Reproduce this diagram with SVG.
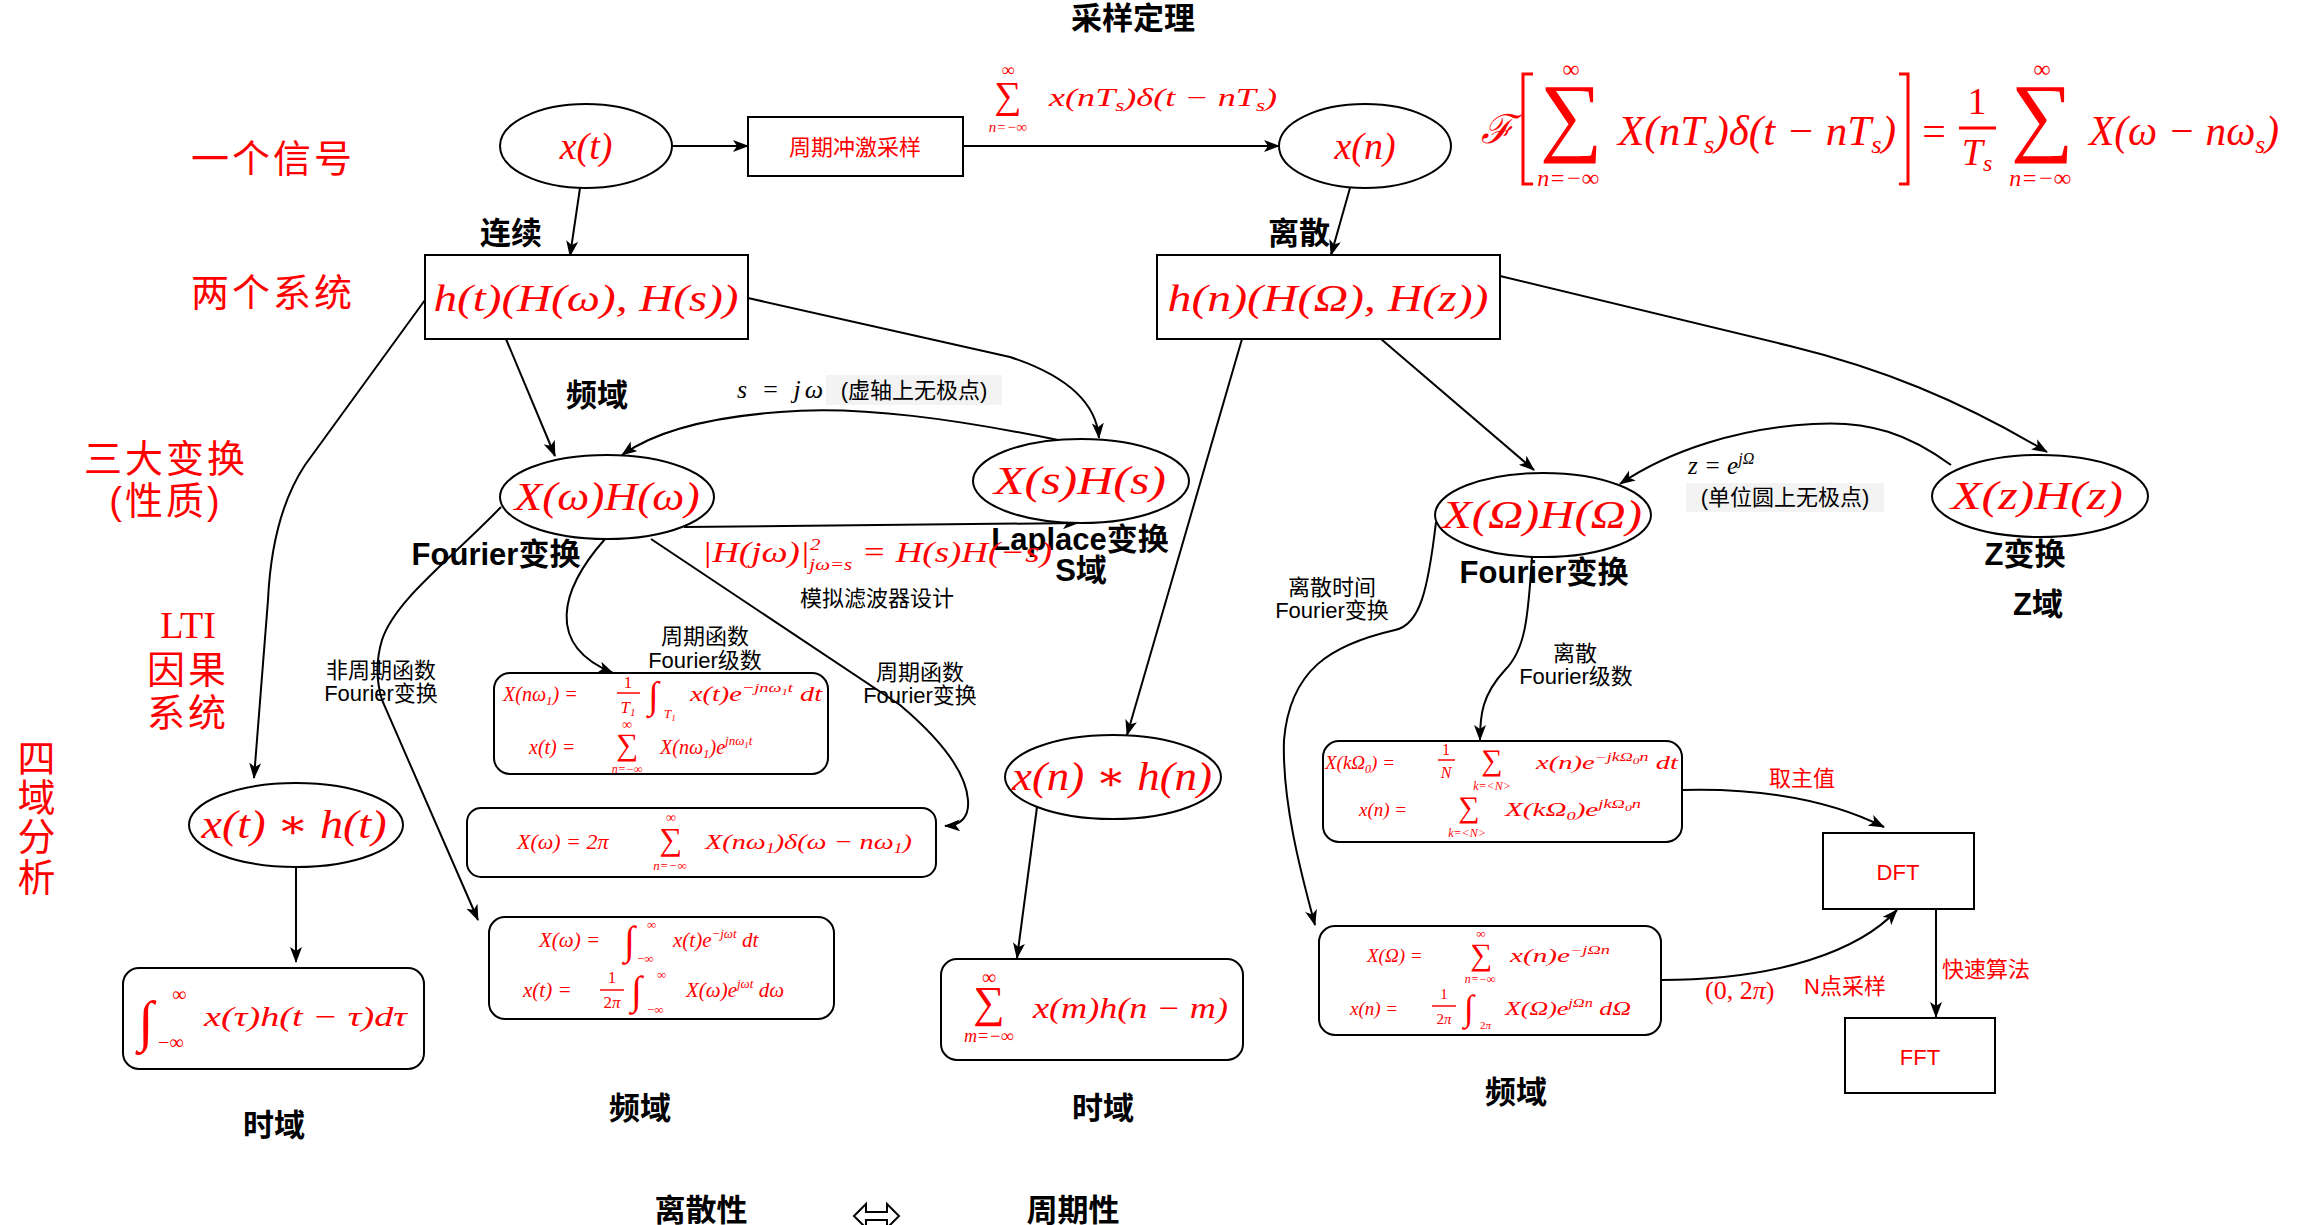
<svg xmlns="http://www.w3.org/2000/svg" width="2308" height="1225" viewBox="0 0 2308 1225">
  <style>
    .nd { fill: #fff; stroke: #000; stroke-width: 2; }
    .cn { fill: none; stroke: #000; stroke-width: 2; marker-end: url(#arr); }
    .lb { font-family: "Liberation Sans", "Noto Sans CJK SC", sans-serif; font-size: 22px; fill: #000; text-anchor: middle; }
    .bd { font-weight: bold; font-size: 31px; }
    .rd { fill: #f00; }
    .hd { font-family: "Liberation Sans", "Noto Sans CJK SC", sans-serif; font-size: 38px; fill: #f00; text-anchor: middle; letter-spacing: 3px; }
    .m { font-family: "Liberation Serif", "DejaVu Serif", serif; font-style: italic; fill: #f00; }
    .u { font-family: "Liberation Serif", "DejaVu Serif", serif; font-style: normal; fill: #f00; }
    .mid { text-anchor: middle; }
    .bar { stroke: #f00; stroke-width: 1.5; }
  </style>
  <defs>
    <marker id="arr" viewBox="0 0 16 12" refX="15" refY="6" markerWidth="16" markerHeight="12" orient="auto" markerUnits="userSpaceOnUse">
      <path d="M0,0 L16,6 L0,12 L4,6 Z" fill="#000"/>
    </marker>
  </defs>

  <rect width="2308" height="1225" fill="#fff"/>

  <!-- row headings -->
  <g id="headings">
    <text class="hd" x="273" y="172">一个信号</text>
    <text class="hd" x="273" y="306">两个系统</text>
    <text class="hd" x="166" y="472">三大变换</text>
    <text class="hd" x="166" y="514">(性质)</text>
    <text x="188" y="638" font-family="Liberation Serif, serif" font-size="38" fill="#f00" text-anchor="middle">LTI</text>
    <text class="hd" x="188" y="683">因果</text>
    <text class="hd" x="188" y="726">系统</text>
    <text class="hd" x="38" y="772">四</text>
    <text class="hd" x="38" y="811">域</text>
    <text class="hd" x="38" y="850">分</text>
    <text class="hd" x="38" y="891">析</text>
  </g>

  <!-- connectors -->
  <g id="connectors">
    <path class="cn" d="M672,146 L748,146"/>
    <path class="cn" d="M963,146 L1279,146"/>
    <path class="cn" d="M580,188 L570,256"/>
    <path class="cn" d="M1350,188 L1331,255"/>
    <path class="cn" d="M425,300 L305,465 Q272,515 268,600 L254,778"/>
    <path class="cn" d="M506,339 L555,456"/>
    <path class="cn" d="M748,298 L1010,357 Q1095,385 1099,438"/>
    <path class="cn" d="M1058,440 C960,420 860,405 780,412 C700,418 650,435 622,455"/>
    <path class="cn" d="M684,527 L1078,523"/>
    <path class="cn" d="M501,507 C450,560 395,600 382,640 C376,660 376,680 382,700 L478,920"/>
    <path class="cn" d="M605,539 C560,590 545,645 613,673"/>
    <path class="cn" d="M651,539 L900,705 Q965,760 968,800 Q970,825 945,826"/>
    <path class="cn" d="M1242,339 L1127,735"/>
    <path class="cn" d="M1381,339 L1534,470"/>
    <path class="cn" d="M1500,276 L1790,346 C1880,368 1960,400 2047,452"/>
    <path class="cn" d="M1951,465 C1910,435 1870,420 1813,424 C1740,428 1670,450 1620,484"/>
    <path class="cn" d="M1436,522 C1428,590 1420,625 1395,630 C1330,645 1290,670 1284,740 C1282,800 1300,870 1315,925"/>
    <path class="cn" d="M1532,557 C1528,620 1525,650 1505,670 C1482,695 1480,715 1480,740"/>
    <path class="cn" d="M296,867 L296,962"/>
    <path class="cn" d="M1037,807 L1017,958"/>
    <path class="cn" d="M1682,790 C1760,788 1830,800 1884,827"/>
    <path class="cn" d="M1661,980 C1780,980 1860,950 1897,910"/>
    <path class="cn" d="M1936,909 L1936,1017"/>
  </g>

  <!-- sampling stage -->
  <g id="node-xt">
    <ellipse class="nd" cx="586" cy="146" rx="86" ry="42"/>
    <text class="m mid" x="586" y="159" font-size="38">x(t)</text>
  </g>
  <g id="node-sampler">
    <rect class="nd" x="748" y="117" width="215" height="59"/>
    <text class="lb rd" x="855" y="155" font-size="24">周期冲激采样</text>
  </g>
  <g id="node-xn">
    <ellipse class="nd" cx="1365" cy="146" rx="86" ry="42"/>
    <text class="m mid" x="1365" y="159" font-size="38">x(n)</text>
  </g>

  <!-- impulse-train label on the sampling arrow -->
  <g id="label-impulse-train">
    <text class="u mid" x="1008" y="76" font-size="18">∞</text>
    <text class="u mid" x="1008" y="108" font-size="38">∑</text>
    <text class="m mid" x="1008" y="132" font-size="15">n=−∞</text>
    <text class="m" x="1049" y="106" font-size="25" textLength="228" lengthAdjust="spacingAndGlyphs">x(nT<tspan font-size="16" dy="5">s</tspan><tspan dy="-5">)δ(t − nT</tspan><tspan font-size="16" dy="5">s</tspan><tspan dy="-5">)</tspan></text>
  </g>

  <!-- spectrum of the sampled signal -->
  <g id="label-sampling-spectrum">
    <text class="m" x="1481" y="143" font-size="40">ℱ</text>
    <path d="M1533,74 H1523 V184 H1533" fill="none" stroke="#f00" stroke-width="3"/>
    <text class="u mid" x="1571" y="77" font-size="24">∞</text>
    <text class="u mid" x="1571" y="145" font-size="88">∑</text>
    <text class="m mid" x="1568" y="186" font-size="24">n=−∞</text>
    <text class="m" x="1618" y="145" font-size="42" textLength="278" lengthAdjust="spacingAndGlyphs">X(nT<tspan font-size="26" dy="8">s</tspan><tspan dy="-8">)δ(t − nT</tspan><tspan font-size="26" dy="8">s</tspan><tspan dy="-8">)</tspan></text>
    <path d="M1899,74 H1908 V184 H1899" fill="none" stroke="#f00" stroke-width="3"/>
    <text class="u mid" x="1934" y="145" font-size="42">=</text>
    <text class="u mid" x="1977" y="114" font-size="38">1</text>
    <line x1="1959" y1="128" x2="1996" y2="128" stroke="#f00" stroke-width="3"/>
    <text class="m mid" x="1977" y="165" font-size="38">T<tspan font-size="24" dy="6">s</tspan></text>
    <text class="u mid" x="2042" y="77" font-size="24">∞</text>
    <text class="u mid" x="2042" y="145" font-size="88">∑</text>
    <text class="m mid" x="2040" y="186" font-size="24">n=−∞</text>
    <text class="m" x="2089" y="145" font-size="42" textLength="190" lengthAdjust="spacingAndGlyphs">X(ω − nω<tspan font-size="26" dy="8">s</tspan><tspan dy="-8">)</tspan></text>
  </g>

  <text class="lb bd" x="1133" y="29" font-size="23">采样定理</text>
  <text class="lb bd" x="511" y="244">连续</text>
  <text class="lb bd" x="1299" y="244">离散</text>

  <!-- systems -->
  <g id="node-ht">
    <rect class="nd" x="425" y="255" width="323" height="84"/>
    <text class="m mid" x="586" y="311" font-size="38" textLength="305" lengthAdjust="spacingAndGlyphs">h(t)(H(ω), H(s))</text>
  </g>
  <g id="node-hn">
    <rect class="nd" x="1157" y="255" width="343" height="84"/>
    <text class="m mid" x="1328" y="311" font-size="38" textLength="321" lengthAdjust="spacingAndGlyphs">h(n)(H(Ω), H(z))</text>
  </g>

  <!-- transforms -->
  <g id="node-Xw">
    <ellipse class="nd" cx="607" cy="497" rx="107" ry="42"/>
    <text class="m mid" x="607" y="510" font-size="40" textLength="185" lengthAdjust="spacingAndGlyphs">X(ω)H(ω)</text>
  </g>
  <g id="node-Xs">
    <ellipse class="nd" cx="1081" cy="481" rx="108" ry="42"/>
    <text class="m mid" x="1080" y="494" font-size="40" textLength="172" lengthAdjust="spacingAndGlyphs">X(s)H(s)</text>
  </g>
  <g id="node-XOmega">
    <ellipse class="nd" cx="1543" cy="515" rx="108" ry="42"/>
    <text class="m mid" x="1542" y="528" font-size="40" textLength="200" lengthAdjust="spacingAndGlyphs">X(Ω)H(Ω)</text>
  </g>
  <g id="node-Xz">
    <ellipse class="nd" cx="2040" cy="496" rx="108" ry="41"/>
    <text class="m mid" x="2037" y="509" font-size="40" textLength="172" lengthAdjust="spacingAndGlyphs">X(z)H(z)</text>
  </g>

  <!-- convolutions -->
  <g id="node-conv-t">
    <ellipse class="nd" cx="296" cy="825" rx="107" ry="42"/>
    <text class="m mid" x="294" y="838" font-size="40" textLength="185" lengthAdjust="spacingAndGlyphs">x(t) ∗ h(t)</text>
  </g>
  <g id="node-conv-n">
    <ellipse class="nd" cx="1113" cy="777" rx="108" ry="42"/>
    <text class="m mid" x="1112" y="790" font-size="40" textLength="200" lengthAdjust="spacingAndGlyphs">x(n) ∗ h(n)</text>
  </g>

  <!-- convolution integral -->
  <g id="node-conv-integral">
    <rect class="nd" x="123" y="968" width="301" height="101" rx="16"/>
    <text class="m" x="138" y="1040" font-size="56">∫</text>
    <text class="u" x="172" y="1001" font-size="20">∞</text>
    <text class="u" x="158" y="1049" font-size="20">−∞</text>
    <text class="m" x="204" y="1026" font-size="28" textLength="203" lengthAdjust="spacingAndGlyphs">x(τ)h(t − τ)dτ</text>
  </g>

  <!-- convolution sum -->
  <g id="node-conv-sum">
    <rect class="nd" x="941" y="959" width="302" height="101" rx="16"/>
    <text class="u mid" x="989" y="984" font-size="20">∞</text>
    <text class="u mid" x="989" y="1017" font-size="44">∑</text>
    <text class="m mid" x="989" y="1042" font-size="18">m=−∞</text>
    <text class="m" x="1033" y="1018" font-size="30" textLength="195" lengthAdjust="spacingAndGlyphs">x(m)h(n − m)</text>
  </g>

  <!-- Fourier series -->
  <g id="node-fs">
    <rect class="nd" x="494" y="673" width="334" height="101" rx="16"/>
    <text class="m" x="503" y="701" font-size="20">X(nω<tspan font-size="13" dy="4">1</tspan><tspan dy="-4">) =</tspan></text>
    <text class="u mid" x="628" y="688" font-size="17">1</text>
    <line class="bar" x1="617" y1="693" x2="640" y2="693"/>
    <text class="m mid" x="628" y="713" font-size="17">T<tspan font-size="11" dy="3">1</tspan></text>
    <text class="m" x="648" y="708" font-size="38">∫</text>
    <text class="m" x="664" y="718" font-size="13">T<tspan font-size="9" dy="3">1</tspan></text>
    <text class="m" x="690" y="701" font-size="20" textLength="132" lengthAdjust="spacingAndGlyphs">x(t)e<tspan font-size="13" dy="-9">−jnω</tspan><tspan font-size="9" dy="3">1</tspan><tspan font-size="13" dy="-3">t</tspan><tspan dy="9"> dt</tspan></text>
    <text class="m" x="529" y="754" font-size="20">x(t) =</text>
    <text class="u mid" x="627" y="729" font-size="14">∞</text>
    <text class="u mid" x="627" y="755" font-size="31">∑</text>
    <text class="m mid" x="627" y="773" font-size="12">n=−∞</text>
    <text class="m" x="660" y="754" font-size="20">X(nω<tspan font-size="13" dy="4">1</tspan><tspan dy="-4">)e</tspan><tspan font-size="13" dy="-9">jnω</tspan><tspan font-size="9" dy="3">1</tspan><tspan font-size="13" dy="-3">t</tspan></text>
  </g>

  <!-- periodic Fourier transform -->
  <g id="node-periodic-ft">
    <rect class="nd" x="467" y="808" width="469" height="69" rx="14"/>
    <text class="m" x="517" y="849" font-size="22">X(ω) = 2π</text>
    <text class="u mid" x="671" y="822" font-size="14">∞</text>
    <text class="u mid" x="671" y="850" font-size="32">∑</text>
    <text class="m mid" x="670" y="870" font-size="13">n=−∞</text>
    <text class="m" x="705" y="849" font-size="22" textLength="207" lengthAdjust="spacingAndGlyphs">X(nω<tspan font-size="14" dy="4">1</tspan><tspan dy="-4">)δ(ω − nω</tspan><tspan font-size="14" dy="4">1</tspan><tspan dy="-4">)</tspan></text>
  </g>

  <!-- Fourier transform pair -->
  <g id="node-ft">
    <rect class="nd" x="489" y="917" width="345" height="102" rx="16"/>
    <text class="m" x="539" y="947" font-size="21">X(ω) =</text>
    <text class="m" x="624" y="954" font-size="40">∫</text>
    <text class="u" x="647" y="929" font-size="13">∞</text>
    <text class="u" x="637" y="963" font-size="13">−∞</text>
    <text class="m" x="673" y="947" font-size="21">x(t)e<tspan font-size="13" dy="-9">−jωt</tspan><tspan dy="9"> dt</tspan></text>
    <text class="m" x="523" y="997" font-size="21">x(t) =</text>
    <text class="u mid" x="612" y="983" font-size="17">1</text>
    <line class="bar" x1="600" y1="990" x2="624" y2="990"/>
    <text class="u mid" x="612" y="1008" font-size="17">2<tspan class="m">π</tspan></text>
    <text class="m" x="631" y="1004" font-size="40">∫</text>
    <text class="u" x="657" y="979" font-size="13">∞</text>
    <text class="u" x="647" y="1014" font-size="13">−∞</text>
    <text class="m" x="686" y="997" font-size="21">X(ω)e<tspan font-size="13" dy="-9">jωt</tspan><tspan dy="9"> dω</tspan></text>
  </g>

  <!-- discrete Fourier series -->
  <g id="node-dfs">
    <rect class="nd" x="1323" y="741" width="359" height="101" rx="16"/>
    <text class="m" x="1325" y="769" font-size="19">X(kΩ<tspan font-size="12" dy="4">0</tspan><tspan dy="-4">) =</tspan></text>
    <text class="u mid" x="1446" y="755" font-size="16">1</text>
    <line class="bar" x1="1438" y1="760" x2="1455" y2="760"/>
    <text class="m mid" x="1446" y="778" font-size="16">N</text>
    <text class="u mid" x="1492" y="770" font-size="30">∑</text>
    <text class="m mid" x="1492" y="790" font-size="12">k=&lt;N&gt;</text>
    <text class="m" x="1536" y="769" font-size="19" textLength="142" lengthAdjust="spacingAndGlyphs">x(n)e<tspan font-size="12" dy="-8">−jkΩ</tspan><tspan font-size="9" dy="3">0</tspan><tspan font-size="12" dy="-3">n</tspan><tspan dy="8"> dt</tspan></text>
    <text class="m" x="1359" y="816" font-size="19">x(n) =</text>
    <text class="u mid" x="1469" y="817" font-size="30">∑</text>
    <text class="m mid" x="1467" y="837" font-size="12">k=&lt;N&gt;</text>
    <text class="m" x="1505" y="816" font-size="19" textLength="136" lengthAdjust="spacingAndGlyphs">X(kΩ<tspan font-size="12" dy="4">0</tspan><tspan dy="-4">)e</tspan><tspan font-size="12" dy="-8">jkΩ</tspan><tspan font-size="9" dy="3">0</tspan><tspan font-size="12" dy="-3">n</tspan></text>
  </g>

  <!-- discrete-time Fourier transform -->
  <g id="node-dtft">
    <rect class="nd" x="1319" y="926" width="342" height="109" rx="16"/>
    <text class="m" x="1367" y="962" font-size="19">X(Ω) =</text>
    <text class="u mid" x="1481" y="938" font-size="13">∞</text>
    <text class="u mid" x="1481" y="965" font-size="31">∑</text>
    <text class="m mid" x="1480" y="983" font-size="12">n=−∞</text>
    <text class="m" x="1510" y="962" font-size="19" textLength="100" lengthAdjust="spacingAndGlyphs">x(n)e<tspan font-size="12" dy="-8">−jΩn</tspan></text>
    <text class="m" x="1350" y="1015" font-size="19">x(n) =</text>
    <text class="u mid" x="1444" y="999" font-size="15">1</text>
    <line class="bar" x1="1432" y1="1006" x2="1456" y2="1006"/>
    <text class="u mid" x="1444" y="1024" font-size="15">2<tspan class="m">π</tspan></text>
    <text class="m" x="1464" y="1020" font-size="36">∫</text>
    <text class="u" x="1480" y="1029" font-size="11">2<tspan class="m">π</tspan></text>
    <text class="m" x="1505" y="1015" font-size="19" textLength="126" lengthAdjust="spacingAndGlyphs">X(Ω)e<tspan font-size="12" dy="-8">jΩn</tspan><tspan dy="8"> dΩ</tspan></text>
  </g>

  <g id="node-dft">
    <rect class="nd" x="1823" y="833" width="151" height="76"/>
    <text class="lb rd" x="1898" y="880" font-size="22">DFT</text>
  </g>
  <g id="node-fft">
    <rect class="nd" x="1845" y="1018" width="150" height="75"/>
    <text class="lb rd" x="1920" y="1065" font-size="22">FFT</text>
  </g>

  <!-- connector labels -->
  <g id="connector-labels">
    <text class="lb bd" x="597" y="406">频域</text>
    <text x="737" y="398" font-family="Liberation Serif, serif" font-style="italic" font-size="26" fill="#000" textLength="86" lengthAdjust="spacing">s = jω</text>
    <rect x="826" y="375" width="176" height="30" fill="#f3f3f3"/>
    <text class="lb" x="914" y="398" font-size="23">(虚轴上无极点)</text>
    <text class="lb bd" x="496" y="565">Fourier变换</text>
    <text class="lb bd" x="1080" y="550">Laplace变换</text>
    <text class="lb bd" x="1081" y="581">S域</text>
    <text class="m" x="702" y="562" font-size="30" textLength="350" lengthAdjust="spacingAndGlyphs">|H(jω)|<tspan font-size="17" dy="-12">2</tspan><tspan font-size="17" dx="-9" dy="20">jω=s</tspan><tspan dy="-8"> = H(s)H(−s)</tspan></text>
    <text class="lb" x="877" y="606" font-size="23">模拟滤波器设计</text>
    <text class="lb" x="705" y="644">周期函数</text>
    <text class="lb" x="705" y="668">Fourier级数</text>
    <text class="lb" x="381" y="678">非周期函数</text>
    <text class="lb" x="381" y="701">Fourier变换</text>
    <text class="lb" x="920" y="680">周期函数</text>
    <text class="lb" x="920" y="703">Fourier变换</text>
    <text class="lb" x="1332" y="595">离散时间</text>
    <text class="lb" x="1332" y="618">Fourier变换</text>
    <text class="lb bd" x="1544" y="583">Fourier变换</text>
    <text class="lb bd" x="2025" y="565">Z变换</text>
    <text class="lb bd" x="2038" y="615">Z域</text>
    <text x="1688" y="474" font-family="Liberation Serif, serif" font-style="italic" font-size="25" fill="#000">z = e<tspan font-size="16" dy="-10">jΩ</tspan></text>
    <rect x="1686" y="483" width="198" height="29" fill="#f3f3f3"/>
    <text class="lb" x="1785" y="505" font-size="23">(单位圆上无极点)</text>
    <text class="lb" x="1575" y="661">离散</text>
    <text class="lb" x="1576" y="684">Fourier级数</text>
    <text class="lb rd" x="1802" y="786" font-size="25">取主值</text>
    <text class="u" x="1705" y="999" font-size="26">(0, 2<tspan class="m">π</tspan>)</text>
    <text class="lb rd" x="1845" y="994" font-size="23">N点采样</text>
    <text class="lb rd" x="1986" y="977" font-size="25">快速算法</text>
  </g>

  <!-- domain captions -->
  <g id="captions">
    <text class="lb bd" x="274" y="1136">时域</text>
    <text class="lb bd" x="640" y="1119">频域</text>
    <text class="lb bd" x="1103" y="1119">时域</text>
    <text class="lb bd" x="1516" y="1103">频域</text>
    <text class="lb bd" x="701" y="1221" font-size="23">离散性</text>
    <polygon points="854,1216 866,1204 866,1212 887,1212 887,1204 899,1216 887,1228 887,1220 866,1220 866,1228" fill="#fff" stroke="#000" stroke-width="2"/>
    <text class="lb bd" x="1073" y="1221" font-size="23">周期性</text>
  </g>
</svg>
